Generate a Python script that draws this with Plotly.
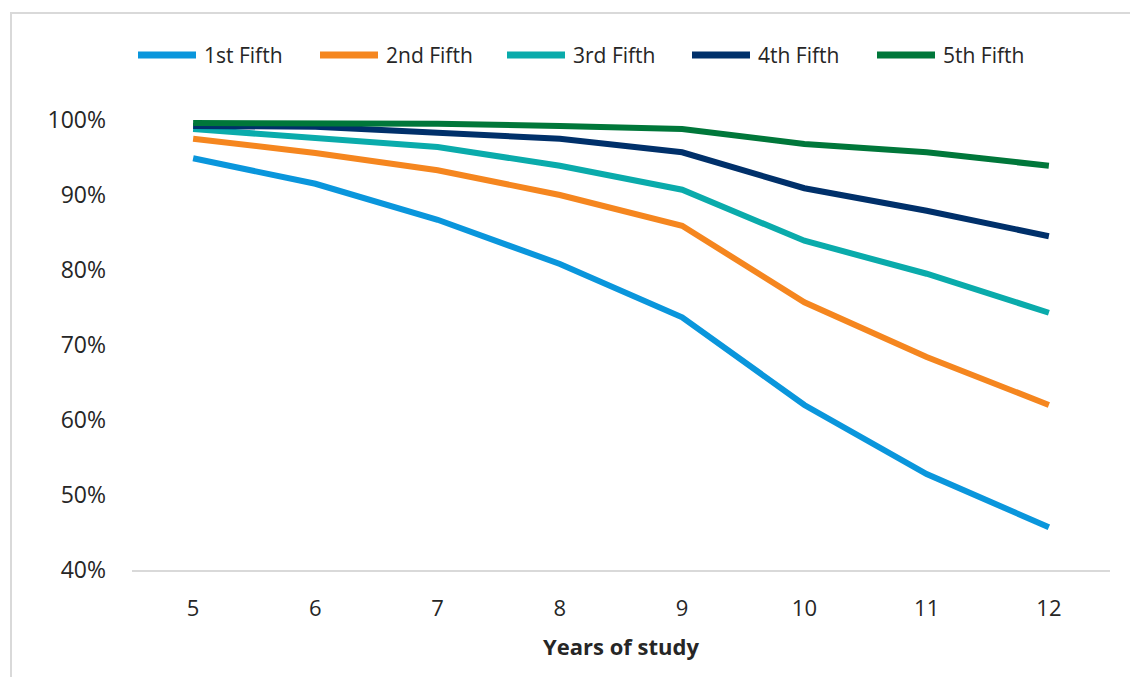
import plotly.graph_objects as go

# Share still enrolled, by years of study, for each income fifth
years = [5, 6, 7, 8, 9, 10, 11, 12]
fifth_1 = [0.949, 0.915, 0.867, 0.808, 0.737, 0.620, 0.528, 0.457]
fifth_2 = [0.975, 0.956, 0.933, 0.900, 0.859, 0.757, 0.684, 0.620]
fifth_3 = [0.988, 0.977, 0.964, 0.939, 0.907, 0.839, 0.795, 0.743]
fifth_4 = [0.992, 0.991, 0.983, 0.975, 0.957, 0.909, 0.879, 0.845]
fifth_5 = [0.996, 0.996, 0.995, 0.992, 0.988, 0.968, 0.957, 0.939]

series_names = ["1st Fifth", "2nd Fifth", "3rd Fifth", "4th Fifth", "5th Fifth"]
series_values = [fifth_1, fifth_2, fifth_3, fifth_4, fifth_5]
series_colors = ["#0A96DC", "#F5861F", "#0AABAB", "#00306A", "#00773A"]

y_ticks = [0.4, 0.5, 0.6, 0.7, 0.8, 0.9, 1.0]
y_tick_text = ["40%", "50%", "60%", "70%", "80%", "90%", "100%"]

W, H = 1130, 677
ML, MR, MT, MB = 132, 20, 120, 107
PW, PH = W - ML - MR, H - MT - MB

FONT = "Open Sans, Noto Sans, sans-serif"
TEXT = "#262626"
FRAME = "#D9D9D9"


def px_x(px):
    return (px - ML) / PW


def px_y(py):
    return (H - MB - py) / PH


fig = go.Figure()
for name, vals, col in zip(series_names, series_values, series_colors):
    fig.add_trace(go.Scatter(
        x=years, y=vals, name=name, mode="lines",
        line=dict(color=col, width=6),
        showlegend=False,
        hovertemplate="%{x}: %{y:.1%}<extra>" + name + "</extra>",
    ))

shapes = [
    # outer chart frame (top and left edges visible)
    dict(type="rect", xref="paper", yref="paper",
         x0=px_x(11), x1=px_x(W + 10), y0=px_y(H + 10), y1=px_y(13),
         line=dict(color=FRAME, width=2), fillcolor="rgba(0,0,0,0)",
         layer="below"),
]
annotations = []

# legend row drawn as swatch lines with labels
legend_starts = [135, 317, 504, 689, 874]
legend_y = 55
for start, name, col in zip(legend_starts, series_names, series_colors):
    shapes.append(dict(
        type="line", xref="paper", yref="paper",
        x0=px_x(start + 3), x1=px_x(start + 61),
        y0=px_y(legend_y), y1=px_y(legend_y),
        line=dict(color=col, width=7),
    ))
    annotations.append(dict(
        xref="paper", yref="paper", x=px_x(start + 67), y=px_y(legend_y),
        text=name, showarrow=False, xanchor="left", yanchor="middle",
        font=dict(family=FONT, size=21, color=TEXT),
    ))

fig.update_layout(
    width=W, height=H,
    margin=dict(l=ML, r=MR, t=MT, b=MB),
    paper_bgcolor="white", plot_bgcolor="white",
    font=dict(family=FONT, color=TEXT),
    shapes=shapes,
    annotations=annotations,
    xaxis=dict(
        range=[4.5, 12.5], tickvals=years, ticktext=[str(y) for y in years],
        showgrid=False, zeroline=False, showline=True,
        linecolor=FRAME, linewidth=2, ticks="",
        tickfont=dict(family=FONT, size=22, color=TEXT),
        ticklabelstandoff=18,
        title=dict(text="<b>Years of study</b>", standoff=18,
                   font=dict(family=FONT, size=22, color=TEXT)),
    ),
    yaxis=dict(
        range=[0.4, 1.0], tickvals=y_ticks, ticktext=y_tick_text,
        showgrid=False, zeroline=False, showline=False, ticks="",
        tickfont=dict(family=FONT, size=23, color=TEXT),
        ticklabelstandoff=25,
    ),
)

fig.write_html("out.html")
